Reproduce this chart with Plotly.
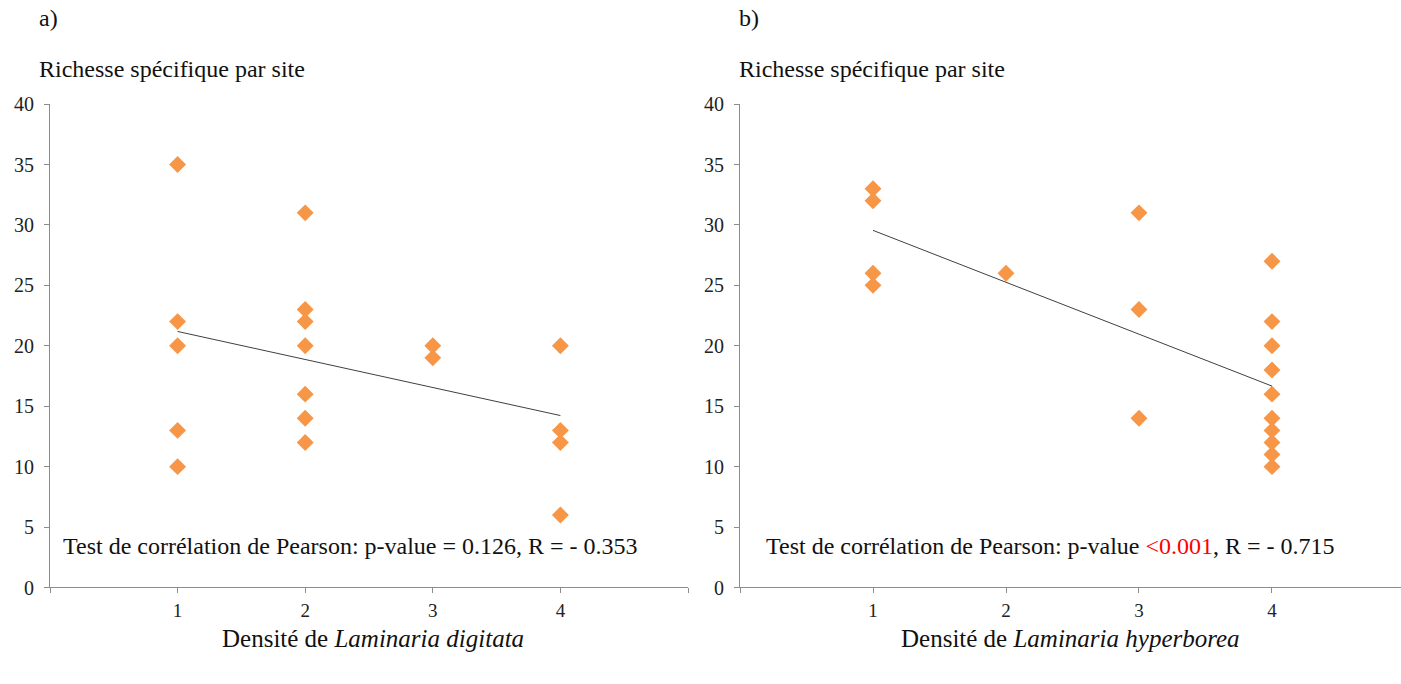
import numpy as np
import plotly.graph_objects as go

# Panel a) Laminaria digitata
x_a = [1, 1, 1, 1, 1, 2, 2, 2, 2, 2, 2, 2, 3, 3, 4, 4, 4, 4]
y_a = [35, 22, 20, 13, 10, 31, 23, 22, 20, 16, 14, 12, 20, 19, 20, 13, 12, 6]

# Panel b) Laminaria hyperborea
x_b = [1, 1, 1, 1, 2, 3, 3, 3, 4, 4, 4, 4, 4, 4, 4, 4, 4, 4]
y_b = [33, 32, 26, 25, 26, 31, 23, 14, 27, 22, 20, 18, 16, 14, 13, 12, 11, 10]

x_tickvals = [0, 1, 2, 3, 4, 5]
x_ticktext = ["", "1", "2", "3", "4", ""]
y_tickvals = [0, 5, 10, 15, 20, 25, 30, 35, 40]

ORANGE = "#F79646"
AXIS = "#8c8c8c"
FONT = "Liberation Serif"

fig = go.Figure()


def add_panel(xs, ys, xaxis, yaxis):
    fig.add_trace(go.Scatter(
        x=xs, y=ys, mode="markers", xaxis=xaxis, yaxis=yaxis,
        marker=dict(symbol="diamond", size=13, color=ORANGE, line=dict(width=0)),
        showlegend=False, hoverinfo="x+y"))
    slope, intercept = np.polyfit(xs, ys, 1)
    xl = [min(xs), max(xs)]
    yl = [slope * v + intercept for v in xl]
    fig.add_trace(go.Scatter(
        x=xl, y=yl, mode="lines", xaxis=xaxis, yaxis=yaxis,
        line=dict(color="#404040", width=1), showlegend=False, hoverinfo="skip"))


add_panel(x_a, y_a, "x", "y")
add_panel(x_b, y_b, "x2", "y2")

W, H = 1401, 684


def py(y_px):
    # map a target picture row to a paper fraction
    return 1 - ((y_px - 11) / 0.967) / H


y_dom = [py(587), py(104)]

xax_common = dict(
    tickvals=x_tickvals, ticktext=x_ticktext, showgrid=False, zeroline=False,
    showline=True, linecolor=AXIS, linewidth=1, ticks="outside", ticklen=5,
    tickcolor=AXIS, tickfont=dict(family=FONT, size=19, color="#222"),
    ticklabelstandoff=1, fixedrange=True)
yax_common = dict(
    range=[0, 40], tickvals=y_tickvals, showgrid=False, zeroline=False,
    showline=True, linecolor=AXIS, linewidth=1, ticks="outside", ticklen=5,
    tickcolor=AXIS, tickfont=dict(family=FONT, size=20, color="#222"),
    ticklabelstandoff=6, domain=y_dom, fixedrange=True)

fig.update_layout(
    width=W, height=H,
    margin=dict(l=0, r=0, t=0, b=0),
    paper_bgcolor="white", plot_bgcolor="white",
    xaxis=dict(domain=[50 / W, 688 / W], range=[0, 5], anchor="y", **xax_common),
    yaxis=dict(anchor="x", **yax_common),
    xaxis2=dict(domain=[740 / W, 1.0], range=[0, 4.97], anchor="y2", **xax_common),
    yaxis2=dict(anchor="x2", **yax_common),
    font=dict(family=FONT, color="#111"),
)

tf = dict(family=FONT, size=24, color="#111")
tf_title = dict(family=FONT, size=25, color="#111")
ann = [
    dict(text="a)", x=37 / W, y=py(18)),
    dict(text="b)", x=737 / W, y=py(18)),
    dict(text="Richesse spécifique par site", x=37 / W, y=py(69)),
    dict(text="Richesse spécifique par site", x=737 / W, y=py(69)),
]
for a in ann:
    fig.add_annotation(xref="paper", yref="paper", xanchor="left", yanchor="middle",
                       showarrow=False, font=tf, **a)

fig.add_annotation(xref="paper", yref="paper", x=373 / W, y=py(638),
                   xanchor="center", yanchor="middle", showarrow=False, font=tf_title,
                   text="Densité de <i>Laminaria digitata</i>")
fig.add_annotation(xref="paper", yref="paper", x=1070 / W, y=py(638),
                   xanchor="center", yanchor="middle", showarrow=False, font=tf_title,
                   text="Densité de <i>Laminaria hyperborea</i>")

fig.add_annotation(xref="x", yref="y", x=0.09, y=3.4, xanchor="left", yanchor="middle",
                   showarrow=False, font=tf,
                   text="Test de corrélation de Pearson: p-value = 0.126, R = - 0.353")
fig.add_annotation(xref="x2", yref="y2", x=0.18, y=3.4, xanchor="left", yanchor="middle",
                   showarrow=False, font=tf,
                   text="Test de corrélation de Pearson: p-value <span style='color:#FF0000'>&lt;0.001</span>, R = - 0.715")

fig.write_html(
    "out.html",
    config={"responsive": False, "displayModeBar": False},
    post_script="document.body.style.margin='0';document.body.style.overflow='hidden';",
)
